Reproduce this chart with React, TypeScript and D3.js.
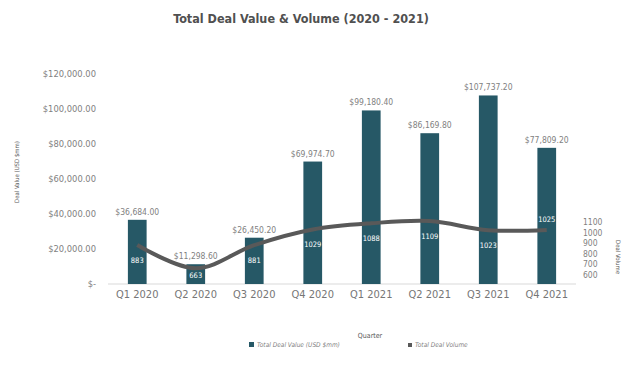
import React from 'react';
import * as d3 from 'd3';

const quarters = ['Q1 2020', 'Q2 2020', 'Q3 2020', 'Q4 2020', 'Q1 2021', 'Q2 2021', 'Q3 2021', 'Q4 2021'];
const dealValue = [36684.0, 11298.6, 26450.2, 69974.7, 99180.4, 86169.8, 107737.2, 77809.2];
const dealVolume = [883, 663, 881, 1029, 1088, 1109, 1023, 1025];
const valueTicks = [0, 20000, 40000, 60000, 80000, 100000, 120000];
const volumeTicks = [600, 700, 800, 900, 1000, 1100];
const volumeLabelAbove = [false, false, false, false, false, false, false, true];

const W = 639;
const H = 366;
const FONT = "'DejaVu Sans Condensed', 'Liberation Sans Narrow', Roboto, sans-serif";
const BAR = '#265866';
const LINE = '#595959';
const TEXT = '#7f7f7f';

const money = (v: number) => (v === 0 ? '$-' : '$' + d3.format(',.2f')(v));

export default function App() {
  const x = d3.scaleBand<string>().domain(quarters).range([108, 576]).paddingInner(0.68).paddingOuter(0.34);
  const yL = d3.scaleLinear().domain([0, 120000]).range([284, 74]);
  const yR = d3.scaleLinear().domain([600, 1100]).range([275, 222]);

  const line = d3
    .line<number>()
    .x((_, i) => (x(quarters[i]) as number) + x.bandwidth() / 2)
    .y((d) => yR(d))
    .curve(d3.curveCatmullRom.alpha(0.5));

  return (
    <svg width={W} height={H} style={{ position: 'absolute', left: 0, top: 0, fontFamily: FONT }}>
      <rect width={W} height={H} fill="#fff" />
      <text x={301} y={23} textAnchor="middle" fontSize={12.5} fontWeight="bold" fill="#505050">
        Total Deal Value &amp; Volume (2020 - 2021)
      </text>

      {/* left axis */}
      {valueTicks.map((t) => (
        <text key={t} x={96} y={yL(t)} dy="0.35em" textAnchor="end" fontSize={9.3} fill={TEXT}>
          {money(t)}
        </text>
      ))}
      <text transform="translate(19,172) rotate(-90)" textAnchor="middle" fontSize={6} fill="#595959">
        Deal Value (USD $mm)
      </text>

      {/* right axis */}
      {volumeTicks.map((t) => (
        <text key={t} x={583} y={yR(t)} dy="0.35em" fontSize={8.5} fill={TEXT}>
          {t}
        </text>
      ))}
      <text transform="translate(616,257) rotate(90)" textAnchor="middle" fontSize={6} fill="#595959">
        Deal Volume
      </text>

      <line x1={108} x2={576} y1={yL(0)} y2={yL(0)} stroke="#d9d9d9" strokeWidth={1} />

      {/* bars */}
      {dealValue.map((v, i) => {
        const bx = x(quarters[i]) as number;
        return (
          <g key={quarters[i]}>
            <rect x={bx} y={yL(v)} width={x.bandwidth()} height={yL(0) - yL(v)} fill={BAR} />
            <text x={bx + x.bandwidth() / 2} y={yL(v) - 5} textAnchor="middle" fontSize={8.5} fill={TEXT}>
              {money(v)}
            </text>
            <text x={bx + x.bandwidth() / 2} y={yL(0) + 14} textAnchor="middle" fontSize={11} fill="#767676">
              {quarters[i]}
            </text>
          </g>
        );
      })}

      <path d={line(dealVolume) || ''} fill="none" stroke={LINE} strokeWidth={4} strokeLinejoin="round" />

      {dealVolume.map((v, i) => {
        const cx = (x(quarters[i]) as number) + x.bandwidth() / 2;
        const cy = volumeLabelAbove[i] ? yR(v) - 11 : Math.min(yR(v) + 15, yL(0) - 9);
        return (
          <text key={i} x={cx} y={cy} dy="0.35em" textAnchor="middle" fontSize={7.5} fill="#fff">
            {v}
          </text>
        );
      })}

      <text x={370} y={338} textAnchor="middle" fontSize={7} fill="#595959">
        Quarter
      </text>

      {/* legend */}
      <rect x={249} y={342} width={5} height={5} fill={BAR} />
      <text x={257} y={347} fontSize={6.5} fontStyle="italic" fill={TEXT}>
        Total Deal Value (USD $mm)
      </text>
      <rect x={408} y={343} width={4} height={4} fill={LINE} />
      <text x={415} y={347} fontSize={6.5} fontStyle="italic" fill={TEXT}>
        Total Deal Volume
      </text>
    </svg>
  );
}
